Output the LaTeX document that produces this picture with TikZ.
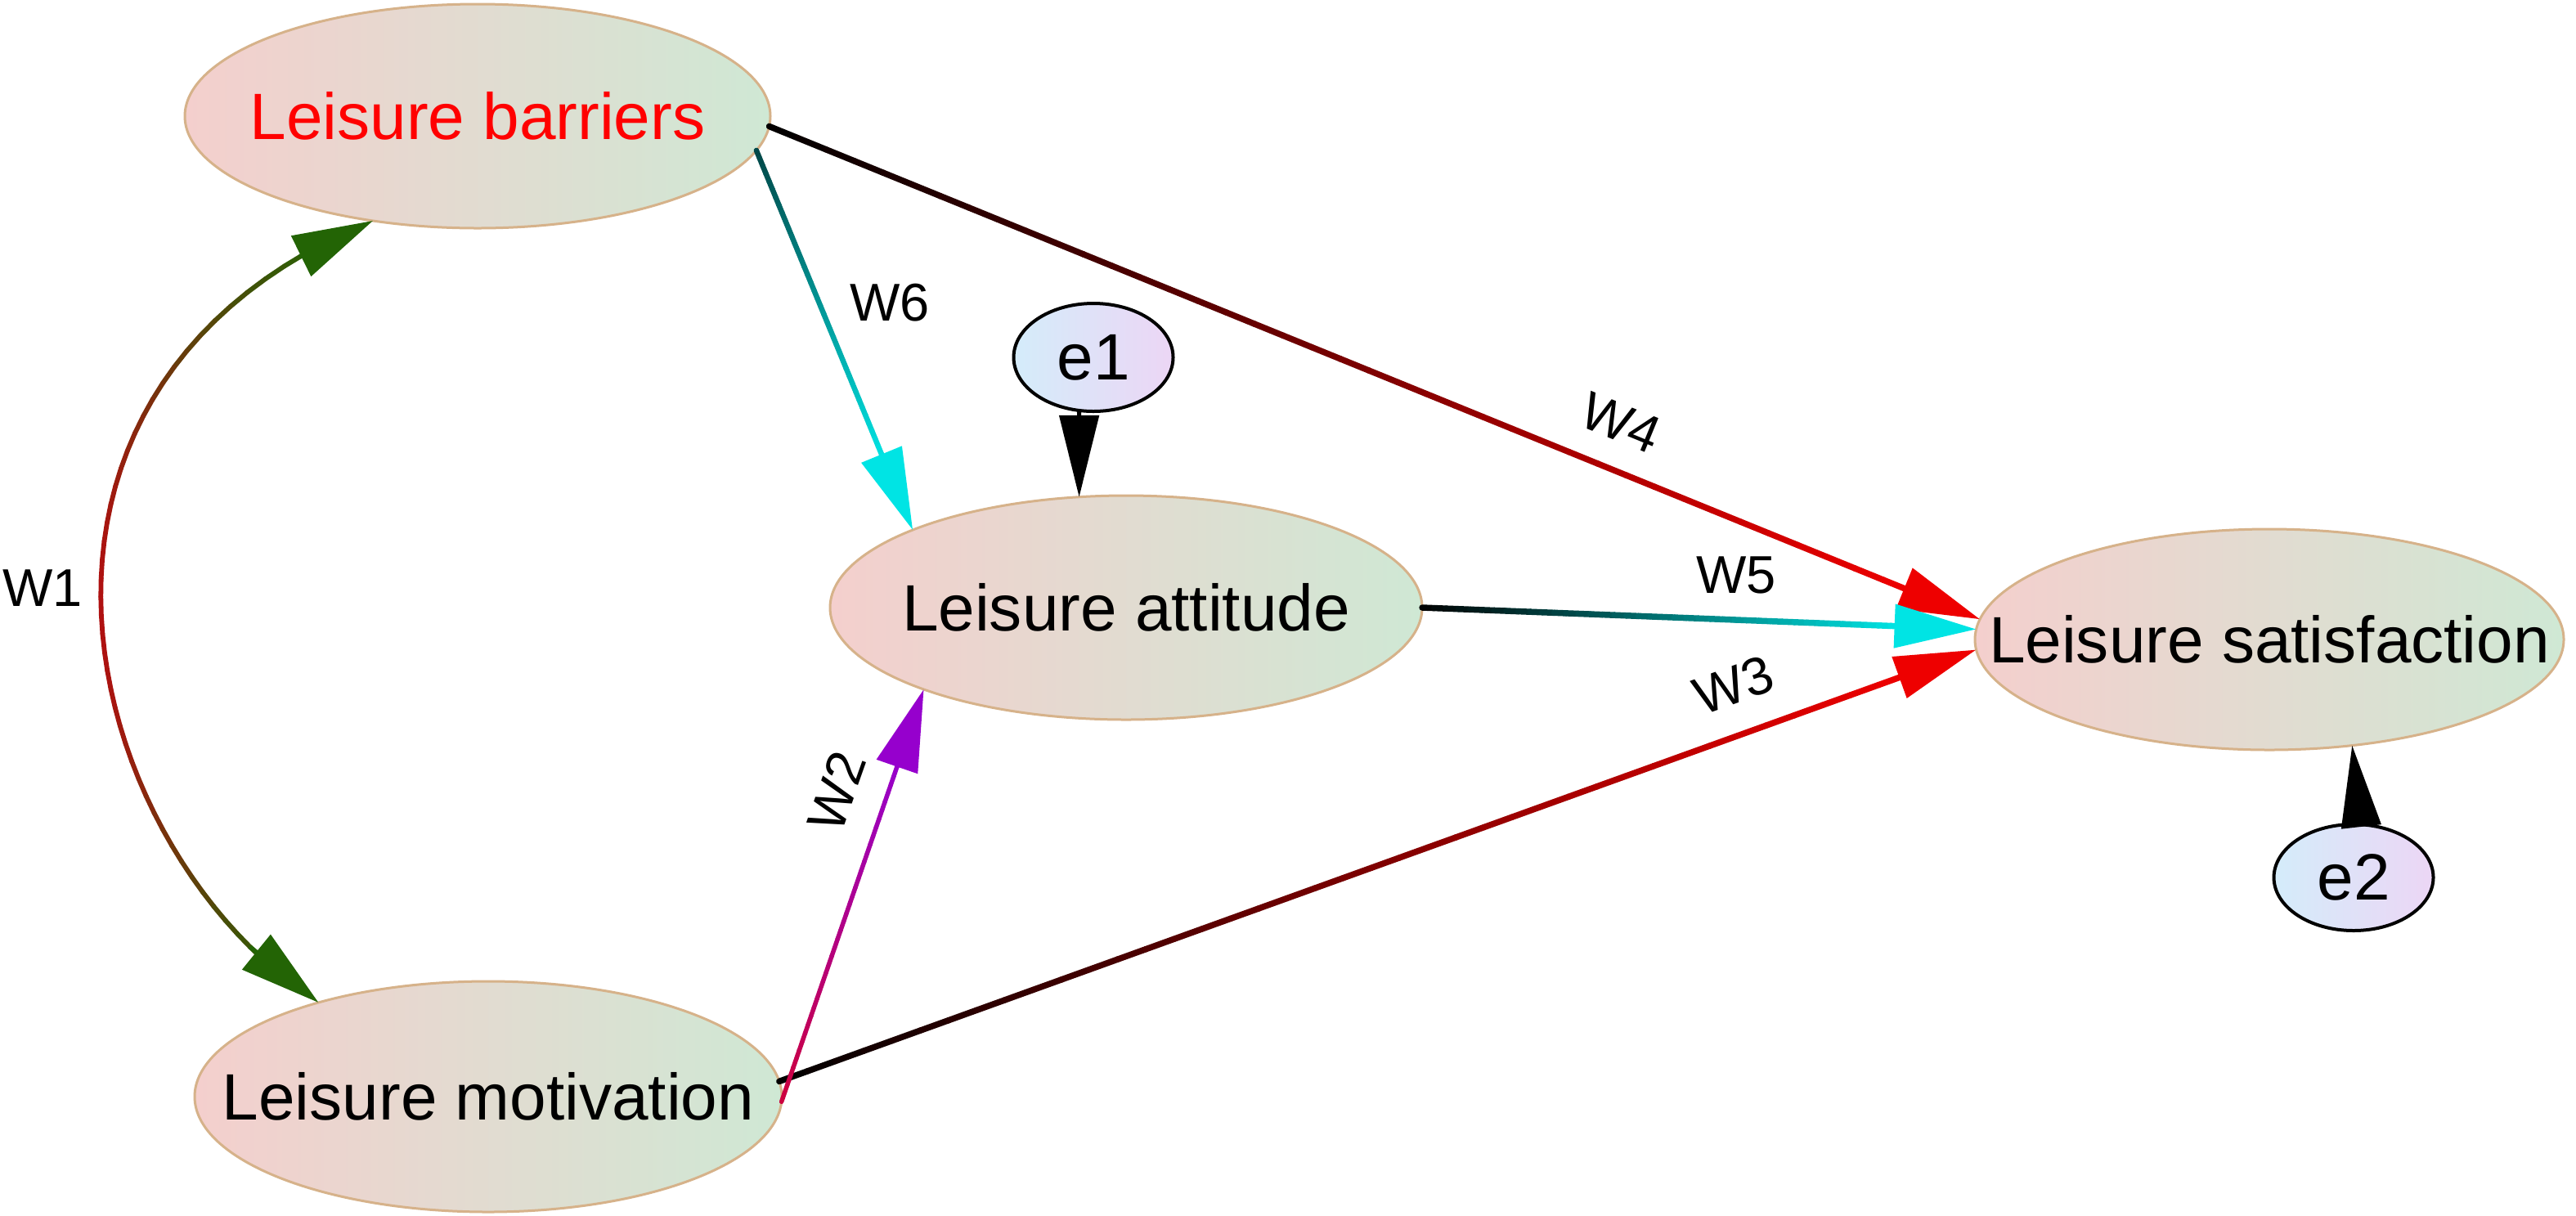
\documentclass[tikz,border=0pt]{standalone}
\usepackage{fontspec}
\setmainfont{Liberation Sans}
\usetikzlibrary{shapes.geometric,arrows.meta,calc}
\definecolor{nodeL}{RGB}{244,207,205}
\definecolor{nodeR}{RGB}{207,232,212}
\definecolor{nodeB}{RGB}{214,178,138}
\definecolor{errL}{RGB}{212,236,250}
\definecolor{errR}{RGB}{236,214,245}
\definecolor{hotred}{RGB}{238,0,0}
\definecolor{cyanx}{RGB}{0,228,228}
\definecolor{tealdark}{RGB}{0,70,70}
\definecolor{purplex}{RGB}{150,0,205}
\definecolor{crimsonx}{RGB}{205,0,60}
\definecolor{woneRed}{RGB}{175,16,16}
\definecolor{woneGreen}{RGB}{35,100,5}
\newcommand\bigtxt{\fontsize{22.8}{27}\selectfont}
\newcommand\lbltxt{\fontsize{18.5}{22}\selectfont}
\newcommand\gradarrow[5]{%
  \coordinate (ga) at (#1);
  \coordinate (gb) at ($(#2)!0.9cm!(#1)$);
  \coordinate (gc) at ($(#2)!1cm!(#1)$);
  \foreach \k in {1,...,40}{%
    \pgfmathsetmacro\ka{(\k-1)/40}%
    \pgfmathsetmacro\kb{\k/40}%
    \pgfmathsetmacro\kc{100*(\k-0.5)/40}%
    \draw[line width=#5, line cap=round, #4!\kc!#3] ($(ga)!\ka!(gb)$) -- ($(ga)!\kb!(gb)$);
  }
  \draw[#4, line width=#5, -{Triangle[length=1cm,width=0.52cm]}] (gc) -- (#2);
}
% point of the cubic curve c0..c3 at parameter #1, stored as coordinate #2
\newcommand\bezpt[2]{%
  \coordinate (q01) at ($(c0)!#1!(c1)$);
  \coordinate (q12) at ($(c1)!#1!(c2)$);
  \coordinate (q23) at ($(c2)!#1!(c3)$);
  \coordinate (r0) at ($(q01)!#1!(q12)$);
  \coordinate (r1) at ($(q12)!#1!(q23)$);
  \coordinate (#2) at ($(r0)!#1!(r1)$);
}
\tikzset{
  latent/.style={ellipse, draw=nodeB, line width=0.03cm, left color=nodeL, right color=nodeR,
    inner sep=0pt, outer sep=0pt, font=\bigtxt},
  errnode/.style={ellipse, draw=black, line width=0.04cm, left color=errL, right color=errR,
    inner sep=0pt, outer sep=0pt, minimum width=1.95cm, minimum height=1.32cm, font=\bigtxt},
  lbl/.style={inner sep=0pt, font=\lbltxt, text=black},
  errarrow/.style={black, line width=0.05cm, -{Triangle[length=1cm,width=0.48cm]}},
  w1head/.style={woneGreen, line width=0.055cm, -{Triangle[length=0.98cm,width=0.54cm]}}
}
\begin{document}
\begin{tikzpicture}
\useasboundingbox (0,0) rectangle (31.5,-14.86);
\fill[white] (0,0) rectangle (31.5,-14.86);

% latent variables
\node[latent, minimum width=7.16cm, minimum height=2.74cm, text=red] (bar) at (5.84,-1.42) {\makebox[0pt]{Leisure barriers}};
\node[latent, minimum width=7.24cm, minimum height=2.74cm] (att) at (13.77,-7.43) {\makebox[0pt]{Leisure attitude}};
\node[latent, minimum width=7.20cm, minimum height=2.70cm] (sat) at (27.75,-7.82) {\makebox[0pt]{Leisure satisfaction}};
\node[latent, minimum width=7.18cm, minimum height=2.82cm] (mot) at (5.97,-13.41) {\makebox[0pt]{Leisure motivation}};

% error terms
\node[errnode] (e1) at (13.37,-4.37) {e1};
\node[errnode, minimum height=1.30cm] (e2) at (28.78,-10.73) {e2};

% W1 covariance: curved, double headed, green ends and red middle
\coordinate (c0) at (bar.225);
\coordinate (c3) at (mot.151);
\coordinate (c1) at ($(c0)+(-5.01,-2.04)$);
\coordinate (c2) at ($(c3)+(-2.96,1.92)$);
\foreach \k in {0,...,45}{%
  \pgfmathsetmacro\ta{0.04+0.92*\k/46}%
  \pgfmathsetmacro\tb{0.04+0.92*(\k+1)/46}%
  \pgfmathsetmacro\kc{100*(sin(180*(\ta+\tb)/2))^1.5}%
  \bezpt{\ta}{sA}
  \bezpt{\tb}{sB}
  \draw[line width=0.058cm, line cap=round, woneRed!\kc!woneGreen] (sA) -- (sB);
}
\bezpt{0.065}{h0}
\bezpt{0.90}{h1}
\draw[w1head] (h0) -- (c0);
\draw[w1head] (h1) -- (c3);

% regression paths
\gradarrow{bar.-7.6}{att.160.5}{tealdark}{cyanx}{0.065cm}
\gradarrow{bar.-2.4}{sat.176.5}{black}{hotred}{0.075cm}
\gradarrow{att.east}{sat.178.9}{black}{cyanx}{0.075cm}
\gradarrow{mot.3.7}{sat.182.4}{black}{hotred}{0.075cm}
\gradarrow{mot.-1}{att.202.7}{crimsonx}{purplex}{0.055cm}

% error arrows
\draw[errarrow] (e1.-105) -- (att.113.6);
\draw[errarrow] (e2.82) -- (sat.-52.4);

% labels
\node[lbl] (lw1) at (0.52,-7.19) {W1};
\node[lbl] (lw6) at (10.88,-3.70) {W6};
\node[lbl, rotate=-22.3] (lw4) at (19.82,-5.17) {W4};
\node[lbl] (lw5) at (21.23,-7.03) {W5};
\node[lbl, rotate=19.7] (lw3) at (21.20,-8.38) {W3};
\node[lbl, rotate=70.5] (lw2) at (10.23,-9.68) {W2};
\end{tikzpicture}
\end{document}
